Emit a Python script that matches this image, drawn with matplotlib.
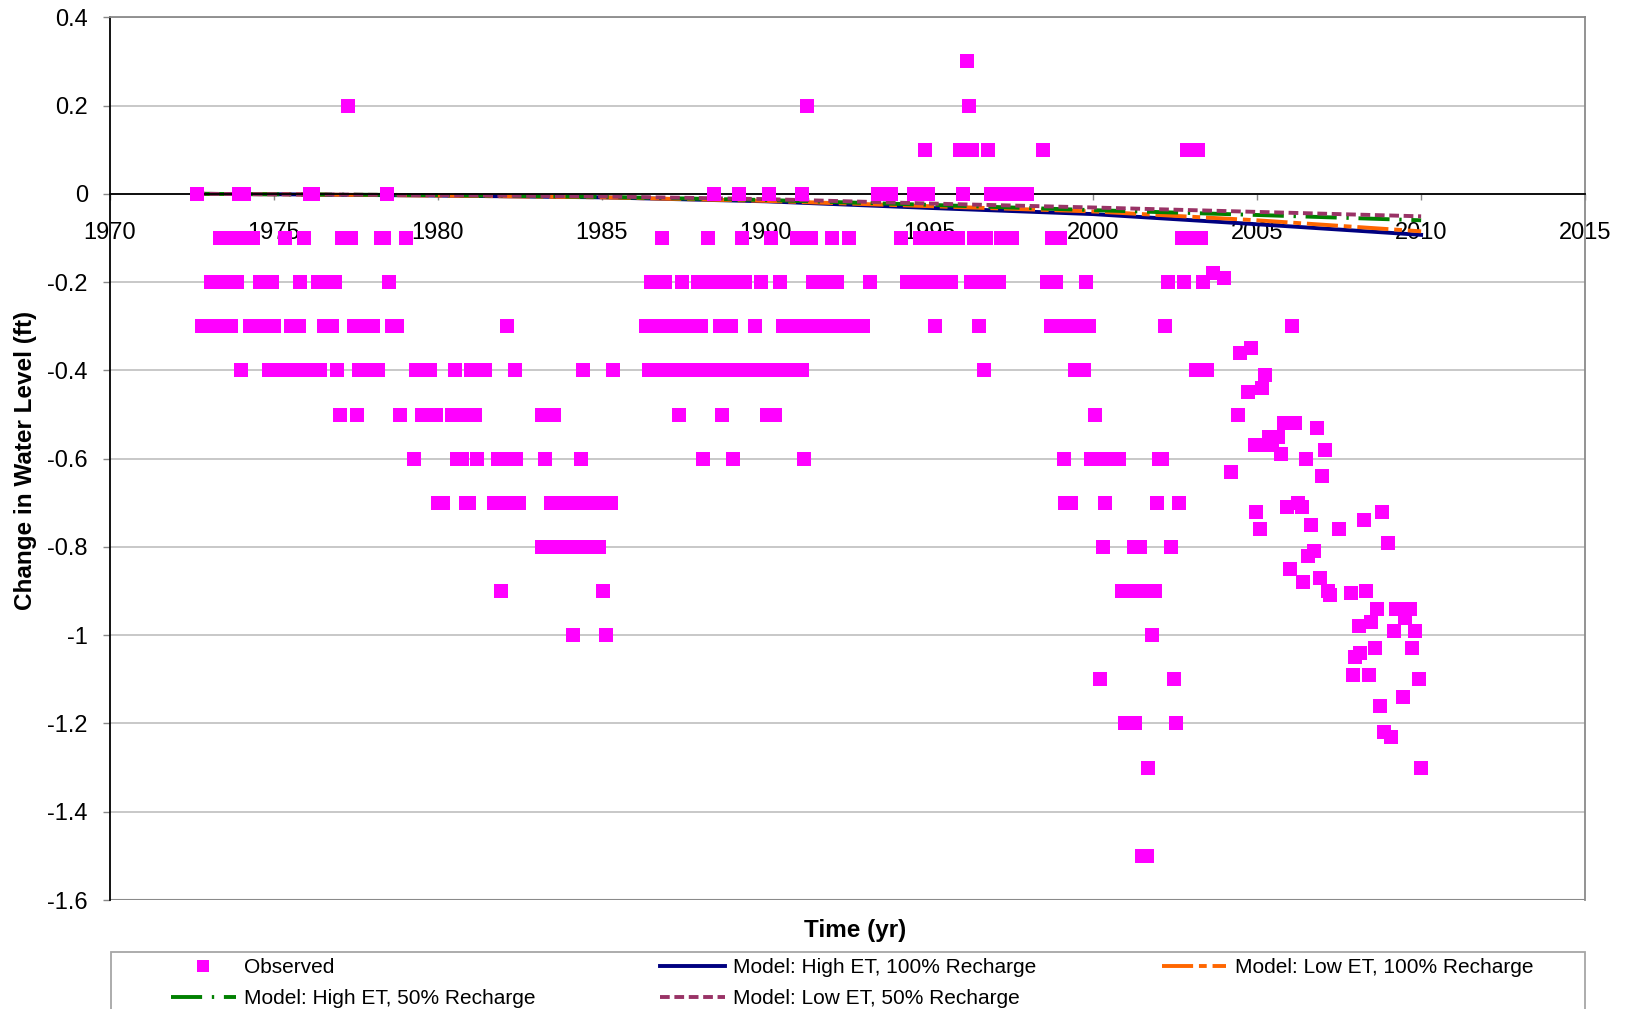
import matplotlib
matplotlib.use("Agg")
import matplotlib.pyplot as plt
from matplotlib.lines import Line2D
from matplotlib.patches import Rectangle
from matplotlib.ticker import FuncFormatter, MultipleLocator

plt.rcParams["font.family"] = ["Liberation Sans", "DejaVu Sans"]
plt.rcParams["axes.unicode_minus"] = False

# observed change in water level (ft), read in 0.1 ft steps up to ~2003
obs_p03 = [1996.15]
obs_p02 = [1977.27, 1991.27, 1996.20]
obs_p01 = [1994.85, 1995.93, 1996.12, 1996.30, 1996.78, 1998.47, 2002.86, 2003.02, 2003.19]
obs_0 = [1972.65, 1973.93, 1974.08, 1976.10, 1976.18, 1978.44, 1988.44, 1989.19, 1990.11,
         1991.11, 1993.42, 1993.62, 1993.82, 1994.52, 1994.74, 1994.95, 1996.02, 1996.88,
         1997.06, 1997.24, 1997.43, 1997.61, 1997.79, 1997.98]
obs_m01 = [1973.35, 1973.52, 1973.69, 1973.87, 1974.04, 1974.20, 1974.37, 1975.35, 1975.93,
           1977.09, 1977.35, 1978.27, 1978.37, 1979.03, 1986.85, 1988.23, 1989.28, 1990.18,
           1990.96, 1991.17, 1991.38, 1992.02, 1992.53, 1994.12, 1994.70, 1994.90, 1995.09,
           1995.28, 1995.48, 1995.67, 1995.86, 1996.36, 1996.53, 1996.71, 1997.18, 1997.35,
           1997.53, 1998.75, 1998.98, 2002.70, 2002.95, 2003.18, 2003.28]
obs_m02 = [1973.09, 1973.29, 1973.47, 1973.66, 1973.86, 1974.59, 1974.76, 1974.94, 1975.81,
           1976.36, 1976.55, 1976.74, 1976.86, 1978.52, 1986.51, 1986.92, 1987.44, 1987.94,
           1988.15, 1988.35, 1988.56, 1988.76, 1988.96, 1989.17, 1989.37, 1989.85, 1990.44,
           1991.46, 1991.68, 1991.92, 1992.18, 1993.19, 1994.32, 1994.51, 1994.70, 1994.90,
           1995.09, 1995.28, 1995.48, 1995.67, 1996.27, 1996.44, 1996.62, 1996.79, 1996.96,
           1997.12, 1998.59, 1998.87, 1999.78, 2002.27, 2002.78, 2003.36]
obs_m03 = [1972.82, 1973.01, 1973.21, 1973.40, 1973.59, 1973.68, 1974.26, 1974.46, 1974.65,
           1974.85, 1975.01, 1975.53, 1975.77, 1976.52, 1976.77, 1977.43, 1977.69, 1977.89,
           1978.01, 1978.60, 1978.77, 1982.10, 1986.34, 1986.55, 1986.76, 1986.98, 1987.19,
           1987.40, 1987.62, 1987.83, 1988.02, 1988.60, 1988.93, 1989.68, 1990.53, 1990.74,
           1990.96, 1991.17, 1991.38, 1991.60, 1991.81, 1992.03, 1992.24, 1992.45, 1992.67,
           1992.97, 1995.18, 1996.52, 1998.70, 1998.91, 1999.11, 1999.31, 1999.52, 1999.72,
           1999.87, 2002.20]
obs_m04 = [1974.01, 1974.85, 1975.04, 1975.23, 1975.42, 1975.62, 1975.81, 1976.01, 1976.20,
           1976.42, 1976.93, 1977.59, 1977.84, 1978.04, 1978.17, 1979.34, 1979.56, 1979.77,
           1980.52, 1981.00, 1981.22, 1981.44, 1982.36, 1984.44, 1985.36, 1986.44, 1986.64,
           1986.85, 1987.05, 1987.25, 1987.46, 1987.66, 1987.86, 1988.07, 1988.27, 1988.48,
           1988.68, 1988.88, 1989.09, 1989.29, 1989.49, 1989.70, 1989.90, 1990.10, 1990.31,
           1990.51, 1990.72, 1990.92, 1991.12, 1996.66, 1999.44, 1999.71, 2003.12, 2003.29,
           2003.47]
obs_m05 = [1977.01, 1977.52, 1978.85, 1979.53, 1979.74, 1979.94, 1980.44, 1980.78, 1981.14,
           1983.19, 1983.37, 1983.54, 1987.35, 1988.66, 1990.03, 1990.28, 2000.04]
obs_m06 = [1979.28, 1980.60, 1980.74, 1981.19, 1981.84, 1982.06, 1982.28, 1982.40, 1983.26,
           1984.36, 1988.10, 1989.02, 1991.18, 1999.11, 1999.93, 2000.14, 2000.34, 2000.54,
           2000.78, 2002.00, 2002.10]
obs_m07 = [1980.02, 1980.16, 1980.85, 1980.95, 1981.72, 1981.80, 1982.21, 1982.49, 1983.44,
           1983.62, 1983.80, 1983.98, 1984.17, 1984.35, 1984.53, 1984.72, 1984.90, 1985.08,
           1985.27, 1999.14, 1999.32, 2000.36, 2001.95, 2002.62]
obs_m08 = [1983.18, 1983.37, 1983.56, 1983.74, 1983.92, 1984.11, 1984.29, 1984.47, 1984.66,
           1984.93, 2000.28, 2001.23, 2001.41, 2002.36]
obs_m09 = [1981.94, 1985.03, 2000.86, 2001.06, 2001.27, 2001.47, 2001.68, 2001.87]
obs_m10 = [1984.11, 1985.12, 2001.79]
obs_m11 = [2000.20, 2002.45]
obs_m12 = [2000.98, 2001.26, 2002.53]
obs_m13 = [2001.68]
obs_m15 = [2001.49, 2001.65]

# finer resolution readings after 2003
late_years = [2003.65, 2003.98, 2004.20, 2004.40, 2004.48, 2004.81, 2005.24, 2005.15, 2004.73,
              2005.83, 2006.15, 2006.82, 2004.93, 2005.28, 2005.37, 2005.52, 2005.64, 2005.44,
              2005.73, 2007.08, 2006.49, 2006.98, 2006.07, 2004.97, 2005.07, 2005.91, 2006.23,
              2006.36, 2006.65, 2007.50, 2008.27, 2008.82, 2008.99, 2006.74, 2006.56, 2006.00,
              2006.40, 2006.90, 2007.15, 2007.23, 2007.85, 2008.32, 2008.65, 2009.24, 2009.67,
              2009.51, 2008.47, 2008.09, 2009.18, 2009.82, 2008.58, 2009.73, 2008.15, 2007.99,
              2007.92, 2008.40, 2009.93, 2009.44, 2008.75, 2008.88, 2009.08, 2009.99]
late_values = [-0.18, -0.19, -0.63, -0.50, -0.36, -0.35, -0.41, -0.44, -0.45,
               -0.52, -0.52, -0.53, -0.57, -0.57, -0.55, -0.55, -0.55, -0.57,
               -0.59, -0.58, -0.60, -0.64, -0.30, -0.72, -0.76, -0.71, -0.70,
               -0.71, -0.75, -0.76, -0.74, -0.72, -0.79, -0.81, -0.82, -0.85,
               -0.88, -0.87, -0.90, -0.91, -0.905, -0.90, -0.94, -0.94, -0.94,
               -0.96, -0.97, -0.98, -0.99, -0.99, -1.03, -1.03, -1.04, -1.05,
               -1.09, -1.09, -1.10, -1.14, -1.16, -1.22, -1.23, -1.30]

# model runs
model_years = [1972.6, 1975, 1980, 1985, 1990, 1995, 2000, 2005, 2010]
high_et_100 = [0, -0.001, -0.004, -0.008, -0.017, -0.032, -0.046, -0.069, -0.093]
low_et_100 = [0, -0.001, -0.004, -0.008, -0.016, -0.028, -0.040, -0.060, -0.085]
high_et_50 = [0, -0.001, -0.003, -0.007, -0.014, -0.025, -0.037, -0.048, -0.060]
low_et_50 = [0, -0.001, -0.003, -0.006, -0.012, -0.022, -0.031, -0.041, -0.051]

levels = [(0.3, obs_p03), (0.2, obs_p02), (0.1, obs_p01), (0.0, obs_0), (-0.1, obs_m01),
          (-0.2, obs_m02), (-0.3, obs_m03), (-0.4, obs_m04), (-0.5, obs_m05), (-0.6, obs_m06),
          (-0.7, obs_m07), (-0.8, obs_m08), (-0.9, obs_m09), (-1.0, obs_m10), (-1.1, obs_m11),
          (-1.2, obs_m12), (-1.3, obs_m13), (-1.5, obs_m15)]
obs_x = [yr for lvl, yrs in levels for yr in yrs] + late_years
obs_y = [lvl for lvl, yrs in levels for yr in yrs] + late_values

MAGENTA = "#ff00ff"
NAVY = "#000080"
ORANGE = "#ff6600"
GREEN = "#008000"
PLUM = "#993366"

fig = plt.figure(figsize=(16.25, 10.09), dpi=100)
ax = fig.add_axes([0.0677, 0.108, 0.9077, 0.8749])

l_he100, = ax.plot(model_years, high_et_100, color=NAVY, lw=2.8, zorder=2)
l_le100, = ax.plot(model_years, low_et_100, color=ORANGE, lw=2.8, dashes=(8, 1.5, 2, 1.5), zorder=2)
l_he50, = ax.plot(model_years, high_et_50, color=GREEN, lw=2.8, dashes=(8, 2.5, 0.6, 2.5), zorder=2)
l_le50, = ax.plot(model_years, low_et_50, color=PLUM, lw=2.8, dashes=(2.5, 1.2), zorder=2)
ax.plot(obs_x, obs_y, ls="none", marker="s", ms=10, mew=0, color=MAGENTA, zorder=3)

ax.set_xlim(1970, 2015)
ax.set_ylim(-1.6, 0.4)
ax.xaxis.set_major_locator(MultipleLocator(5))
ax.yaxis.set_major_locator(MultipleLocator(0.2))
ax.yaxis.set_major_formatter(FuncFormatter(lambda v, _: f"{round(v, 1) + 0.0:g}"))

ax.spines["bottom"].set_position(("data", 0))
ax.spines["bottom"].set_color("black")
ax.spines["bottom"].set_linewidth(1.3)
ax.spines["left"].set_color("black")
ax.spines["left"].set_linewidth(1.3)
for side in ("top", "right"):
    ax.spines[side].set_color("#8a8a8a")
    ax.spines[side].set_linewidth(1.3)
ax.axhline(-1.6, color="#8a8a8a", lw=1.5, zorder=1)

ax.grid(axis="y", color="#c4c4c4", lw=1.3)
ax.set_axisbelow(True)
ax.tick_params(axis="x", direction="out", length=4.5, width=1, pad=15.5, labelsize=17, color="#888888")
ax.tick_params(axis="y", direction="out", length=5, width=1, pad=11, labelsize=17, color="#888888")

fig.text(855 / 1625, 1 - 930 / 1009, "Time (yr)", ha="center", va="center",
         fontsize=17.5, fontweight="bold")
fig.text(26 / 1625, 1 - 460 / 1009, "Change in Water Level (ft)", ha="center", va="center",
         rotation=90, fontsize=17.5, fontweight="bold")

h_obs = Line2D([], [], ls="none", marker="s", ms=8, mew=0, color=MAGENTA)
fig.legend(handles=[h_obs, l_he50, l_he100, l_le50, l_le100],
           labels=["Observed", "Model: High ET, 50% Recharge", "Model: High ET, 100% Recharge",
                   "Model: Low ET, 50% Recharge", "Model: Low ET, 100% Recharge"],
           loc="upper left", bbox_to_anchor=(171 / 1625, 1 - 958 / 1009),
           ncol=3, frameon=False, borderpad=0, borderaxespad=0,
           columnspacing=6.0, handlelength=3.1, handletextpad=0.4, labelspacing=0.6,
           fontsize=15)
fig.add_artist(Rectangle((111 / 1625, -0.05), (1585 - 111) / 1625, 1 - 951.7 / 1009 + 0.05,
                         transform=fig.transFigure, fill=False, edgecolor="#a6a6a6", lw=1.3))

fig.savefig("out.png", dpi=100)
